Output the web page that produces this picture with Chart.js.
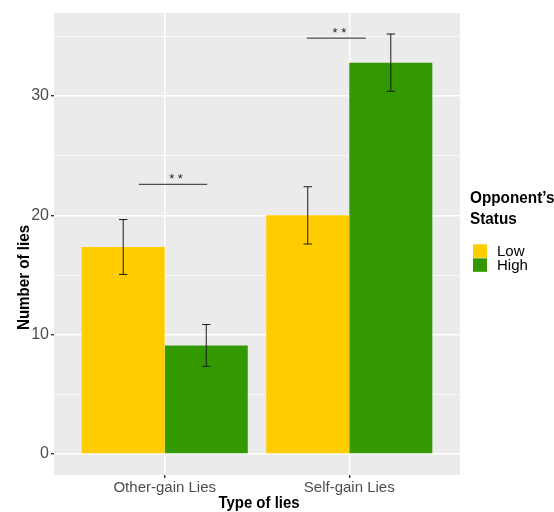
<!DOCTYPE html>
<html>
<head>
<meta charset="utf-8">
<script src="https://cdn.jsdelivr.net/npm/chart.js@4.4.0/dist/chart.umd.min.js"></script>
<style>
html, body { margin: 0; padding: 0; background: #fff; }
#wrap { width: 554px; height: 512px; position: relative; }
</style>
</head>
<body>
<div id="wrap"><canvas id="liesChart" width="554" height="512"></canvas></div>
<script>
// data
const categories = ['Other-gain Lies', 'Self-gain Lies'];
const statusLabels = ['Low', 'High'];
const lowValues = [17.35, 20.0];
const highValues = [9.1, 32.8];
const lowErrors = [2.3, 2.4];
const highErrors = [1.75, 2.4];
const yTicks = [0, 5, 10, 15, 20, 25, 30, 35];
// significance brackets (in data units)
const sigText = ['* *', '* *'];
const sigLevel = [22.6, 34.85];
const sigFrom = [0.86, 1.77];
const sigTo = [1.23, 2.09];

const FONT = "'Liberation Sans', Arial, sans-serif";
const TITLE_FONT = 'bold 17px ' + FONT;
const barColors = ['#FFCC00', '#339900'];

// narrow bold text, like the original's titles
function narrowText(ctx, text, x, y, align, squeeze) {
    ctx.save();
    ctx.translate(x, y);
    ctx.scale(squeeze, 1);
    ctx.textAlign = align;
    ctx.fillText(text, 0, 0);
    ctx.restore();
}

// grey panel behind the plot
const panelBg = {
    id: 'panelBg',
    beforeDraw(chart) {
        const { ctx, chartArea: a } = chart;
        ctx.save();
        ctx.fillStyle = '#EBEBEB';
        ctx.fillRect(a.left, a.top, a.right - a.left, a.bottom - a.top);
        ctx.restore();
    }
};

// error bars + significance markers
const extras = {
    id: 'extras',
    afterDatasetsDraw(chart) {
        const { ctx, scales: { x, y } } = chart;
        ctx.save();
        ctx.strokeStyle = '#1a1a1a';
        ctx.lineWidth = 1;
        chart.data.datasets.forEach((ds, i) => {
            const meta = chart.getDatasetMeta(i);
            meta.data.forEach((bar, j) => {
                const v = ds.data[j].y;
                const e = ds.errors[j];
                const top = y.getPixelForValue(v + e);
                const bot = y.getPixelForValue(v - e);
                ctx.beginPath();
                ctx.moveTo(bar.x, top); ctx.lineTo(bar.x, bot);
                ctx.moveTo(bar.x - 4.2, top); ctx.lineTo(bar.x + 4.2, top);
                ctx.moveTo(bar.x - 4.2, bot); ctx.lineTo(bar.x + 4.2, bot);
                ctx.stroke();
            });
        });

        ctx.strokeStyle = '#4d4d4d';
        ctx.lineWidth = 1.3;
        ctx.fillStyle = '#222';
        ctx.font = '13px ' + FONT;
        ctx.textAlign = 'center';
        ctx.textBaseline = 'alphabetic';
        sigText.forEach((t, i) => {
            const x0 = x.getPixelForValue(sigFrom[i]);
            const x1 = x.getPixelForValue(sigTo[i]);
            const py = y.getPixelForValue(sigLevel[i]);
            ctx.beginPath();
            ctx.moveTo(x0, py); ctx.lineTo(x1, py);
            ctx.stroke();
            ctx.fillText(t, (x0 + x1) / 2 + 3, py - 1.5);
        });
        ctx.restore();
    },
    afterDraw(chart) {
        const { ctx, chartArea: a } = chart;
        ctx.save();
        ctx.fillStyle = '#000';
        ctx.font = TITLE_FONT;
        ctx.textBaseline = 'alphabetic';

        // x axis title
        narrowText(ctx, 'Type of lies', (a.left + a.right) / 2 + 2, 508, 'center', 0.88);

        // y axis title
        ctx.save();
        ctx.translate(29, 277.5);
        ctx.rotate(-Math.PI / 2);
        narrowText(ctx, 'Number of lies', 0, 0, 'center', 0.89);
        ctx.restore();

        // legend
        narrowText(ctx, 'Opponent\u2019s', 470, 202.5, 'left', 0.9);
        narrowText(ctx, 'Status', 470, 223.5, 'left', 0.9);
        ctx.font = '15px ' + FONT;
        ctx.textAlign = 'left';
        statusLabels.forEach((lab, i) => {
            const top = 244.3 + i * 14;
            ctx.fillStyle = barColors[i];
            ctx.fillRect(473, top, 14, 13.5);
            ctx.fillStyle = '#000';
            ctx.fillText(lab, 497, top + 12);
        });
        ctx.restore();
    }
};

const datasets = [lowValues, highValues].map((vals, i) => ({
    label: statusLabels[i],
    data: vals.map((v, j) => ({ x: j + 1, y: v })),
    errors: i === 0 ? lowErrors : highErrors,
    backgroundColor: barColors[i],
    borderWidth: 0,
    categoryPercentage: 0.9,
    barPercentage: 1.0
}));

const majorTick = c => c.tick && c.tick.value % 10 === 0;

new Chart(document.getElementById('liesChart').getContext('2d'), {
    type: 'bar',
    data: { datasets: datasets },
    options: {
        responsive: false,
        animation: false,
        events: [],
        layout: { padding: { left: 0, right: 94, top: 13, bottom: 0 } },
        plugins: {
            legend: { display: false },
            tooltip: { enabled: false }
        },
        scales: {
            x: {
                type: 'linear',
                min: 0.4,
                max: 2.6,
                offset: false,
                afterBuildTicks: s => { s.ticks = categories.map((c, i) => ({ value: i + 1 })); },
                afterFit: s => { s.height = 37; },
                ticks: {
                    callback: v => categories[v - 1] || '',
                    color: '#4D4D4D',
                    font: { family: FONT, size: 15 },
                    padding: 1,
                    maxRotation: 0,
                    autoSkip: false
                },
                grid: { offset: false, color: '#FFFFFF', lineWidth: 1.4, tickLength: 3, tickColor: '#333333' },
                border: { display: false }
            },
            y: {
                min: -1.76,
                max: 36.96,
                afterBuildTicks: s => { s.ticks = yTicks.map(v => ({ value: v })); },
                afterFit: s => { s.width = 54; },
                ticks: {
                    callback: v => (v % 10 === 0 ? String(v) : ''),
                    color: '#4D4D4D',
                    font: { family: FONT, size: 16 },
                    padding: 2
                },
                grid: {
                    color: '#FFFFFF',
                    lineWidth: c => (majorTick(c) ? 1.4 : 0.7),
                    tickLength: 3,
                    tickColor: c => (majorTick(c) ? '#333333' : 'rgba(0,0,0,0)')
                },
                border: { display: false }
            }
        }
    },
    plugins: [panelBg, extras]
});
</script>
</body>
</html>
